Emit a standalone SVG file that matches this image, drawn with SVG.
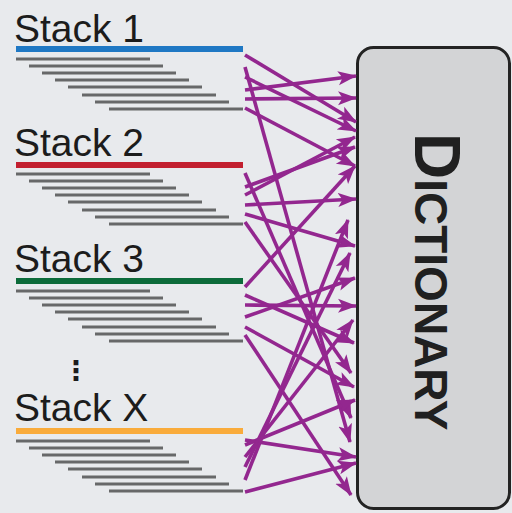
<svg xmlns="http://www.w3.org/2000/svg" width="512" height="513" viewBox="0 0 512 513">
<defs>
<marker id="ah" markerUnits="userSpaceOnUse" markerWidth="20" markerHeight="16" refX="18" refY="8" orient="auto" viewBox="0 0 20 16">
<path d="M0,1 L19,8 L0,15 L4.5,8 z" fill="#93278f"/>
</marker>
<style>
.lbl{font-family:"Liberation Sans",Arial,sans-serif;font-size:39px;fill:#1c1c1c}
.g{stroke:#676869;stroke-width:3}
.c{stroke:#93278f;stroke-width:3.6;fill:none;marker-end:url(#ah)}
.dict{font-family:"Liberation Sans",Arial,sans-serif;font-weight:bold;fill:#202020}
</style>
</defs>
<rect x="0" y="0" width="512" height="513" fill="#e8eaed"/>

<g id="stack1">
<text class="lbl" x="14" y="42">Stack 1</text>
<line x1="16" y1="49" x2="243" y2="49" stroke="#1f78c4" stroke-width="6"/>
<g class="g"><line x1="16" y1="59" x2="150" y2="59"/><line x1="29" y1="66" x2="163" y2="66"/><line x1="42" y1="73" x2="176" y2="73"/><line x1="55" y1="80" x2="189" y2="80"/><line x1="68" y1="87" x2="202" y2="87"/><line x1="82" y1="95" x2="216" y2="95"/><line x1="95" y1="102" x2="229" y2="102"/><line x1="109" y1="109" x2="243" y2="109"/></g>
</g>

<g id="stack2">
<text class="lbl" x="14" y="156">Stack 2</text>
<line x1="16" y1="165" x2="243" y2="165" stroke="#c21f2f" stroke-width="6"/>
<g class="g"><line x1="16" y1="174" x2="150" y2="174"/><line x1="29" y1="181" x2="163" y2="181"/><line x1="42" y1="188" x2="176" y2="188"/><line x1="55" y1="195" x2="189" y2="195"/><line x1="68" y1="202" x2="202" y2="202"/><line x1="82" y1="210" x2="216" y2="210"/><line x1="95" y1="217" x2="229" y2="217"/><line x1="109" y1="224" x2="243" y2="224"/></g>
</g>

<g id="stack3">
<text class="lbl" x="14" y="272">Stack 3</text>
<line x1="16" y1="281" x2="243" y2="281" stroke="#0c6b3a" stroke-width="6"/>
<g class="g"><line x1="16" y1="291" x2="150" y2="291"/><line x1="29" y1="298" x2="163" y2="298"/><line x1="42" y1="305" x2="176" y2="305"/><line x1="55" y1="312" x2="189" y2="312"/><line x1="68" y1="319" x2="202" y2="319"/><line x1="82" y1="327" x2="216" y2="327"/><line x1="95" y1="334" x2="229" y2="334"/><line x1="109" y1="341" x2="243" y2="341"/></g>
</g>

<g id="ellipsis">
<text x="76" y="380" text-anchor="middle" style="font-family:'DejaVu Sans',sans-serif;font-size:27px;font-weight:bold;fill:#1c1c1c">⋮</text>
</g>

<g id="stackX">
<text class="lbl" x="14" y="421">Stack X</text>
<line x1="16" y1="431" x2="243" y2="431" stroke="#f9ab3b" stroke-width="6"/>
<g class="g"><line x1="16" y1="441" x2="150" y2="441"/><line x1="29" y1="448" x2="163" y2="448"/><line x1="42" y1="455" x2="176" y2="455"/><line x1="55" y1="462" x2="189" y2="462"/><line x1="68" y1="469" x2="202" y2="469"/><line x1="82" y1="477" x2="216" y2="477"/><line x1="95" y1="484" x2="229" y2="484"/><line x1="109" y1="491" x2="243" y2="491"/></g>
</g>

<g id="dictionary">
<rect x="357.5" y="47.5" width="152" height="461" rx="16" fill="#d3d4d6" stroke="#232323" stroke-width="3"/>
<text class="dict" transform="translate(415,133) rotate(90)"><tspan font-size="64">D</tspan><tspan font-size="46">ICTIONARY</tspan></text>
</g>

<g id="connectors">
<line class="c" x1="245" y1="55" x2="356" y2="122"/>
<line class="c" x1="245" y1="67" x2="350" y2="442"/>
<line class="c" x1="245" y1="77" x2="356" y2="131"/>
<line class="c" x1="245" y1="90" x2="356" y2="76"/>
<line class="c" x1="245" y1="99" x2="356" y2="98"/>
<line class="c" x1="245" y1="108" x2="355" y2="166"/>
<line class="c" x1="245" y1="173" x2="351" y2="418"/>
<line class="c" x1="245" y1="187" x2="355" y2="147"/>
<line class="c" x1="245" y1="195" x2="355" y2="137"/>
<line class="c" x1="245" y1="205" x2="356" y2="199"/>
<line class="c" x1="245" y1="214" x2="355" y2="246"/>
<line class="c" x1="245" y1="222" x2="351" y2="373"/>
<line class="c" x1="245" y1="287" x2="355" y2="166"/>
<line class="c" x1="245" y1="295" x2="354" y2="343"/>
<line class="c" x1="245" y1="305" x2="356" y2="306"/>
<line class="c" x1="245" y1="317" x2="355" y2="278"/>
<line class="c" x1="245" y1="327" x2="354" y2="387"/>
<line class="c" x1="245" y1="335" x2="351" y2="495"/>
<line class="c" x1="245" y1="440" x2="356" y2="457"/>
<line class="c" x1="245" y1="492" x2="356" y2="463"/>
<line class="c" x1="245" y1="445" x2="355" y2="400"/>
<line class="c" x1="245" y1="457" x2="353" y2="320"/>
<line class="c" x1="245" y1="467" x2="350" y2="253"/>
<line class="c" x1="245" y1="480" x2="348" y2="220"/>
</g>
</svg>
